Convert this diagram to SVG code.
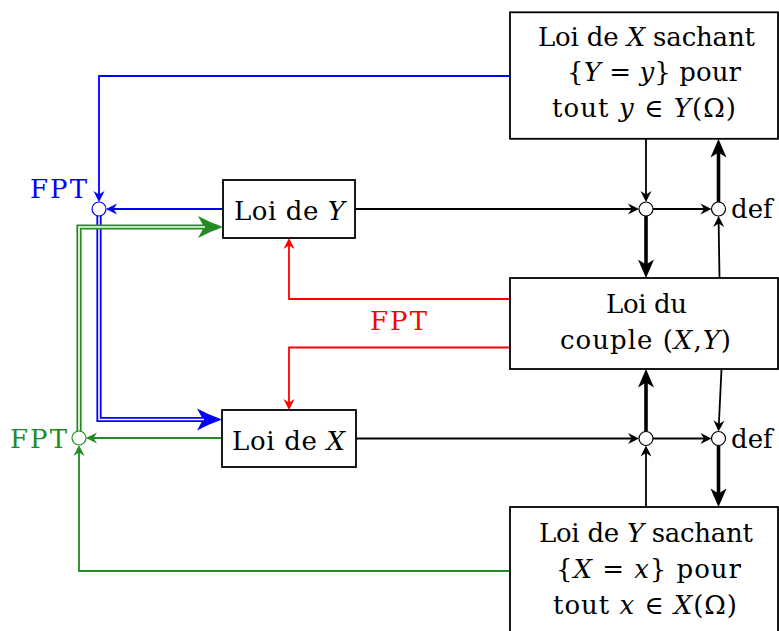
<svg xmlns="http://www.w3.org/2000/svg" width="779" height="631" viewBox="0 0 779 631">
<style>
.box{fill:#fff;stroke:#000;stroke-width:1.8}
.t{font-family:"DejaVu Serif","Liberation Serif",serif;font-size:26px;fill:#000}
.i{font-style:italic}
.ln{fill:none;stroke-width:1.8;stroke-linejoin:miter}
.k{stroke:#000}.b{stroke:#0000ff}.g{stroke:#228b22}.r{stroke:#ff0000}
.thick{fill:none;stroke:#000;stroke-width:3.6}
.dbl{fill:none;stroke-width:5.2;stroke-linejoin:miter}
.inner{fill:none;stroke:#fff;stroke-width:1.6;stroke-linejoin:miter}
.dot{fill:#fff;stroke-width:1.2}
</style>
<defs>
<marker id="ak" markerUnits="userSpaceOnUse" orient="auto" refX="0" refY="0" markerWidth="30" markerHeight="30" overflow="visible"><path d="M4,0 L-7,-5.5 L-3.5,0 L-7,5.5 Z" fill="#000"/></marker>
<marker id="ab" markerUnits="userSpaceOnUse" orient="auto" refX="0" refY="0" markerWidth="30" markerHeight="30" overflow="visible"><path d="M4,0 L-7,-5.5 L-3.5,0 L-7,5.5 Z" fill="#0000ff"/></marker>
<marker id="ag" markerUnits="userSpaceOnUse" orient="auto" refX="0" refY="0" markerWidth="30" markerHeight="30" overflow="visible"><path d="M4,0 L-7,-5.5 L-3.5,0 L-7,5.5 Z" fill="#228b22"/></marker>
<marker id="ar" markerUnits="userSpaceOnUse" orient="auto" refX="0" refY="0" markerWidth="30" markerHeight="30" overflow="visible"><path d="M4,0 L-7,-5.5 L-3.5,0 L-7,5.5 Z" fill="#ff0000"/></marker>
<marker id="akT" markerUnits="userSpaceOnUse" orient="auto" refX="0" refY="0" markerWidth="40" markerHeight="40" overflow="visible"><path d="M6,0 L-12.5,-8 L-7.5,0 L-12.5,8 Z" fill="#000"/></marker>
<marker id="abB" markerUnits="userSpaceOnUse" orient="auto" refX="0" refY="0" markerWidth="40" markerHeight="40" overflow="visible"><path d="M6,0 Q-8,-5 -19,-11 L-13,0 L-19,11 Q-8,5 6,0 Z" fill="#0000ff"/></marker>
<marker id="agB" markerUnits="userSpaceOnUse" orient="auto" refX="0" refY="0" markerWidth="40" markerHeight="40" overflow="visible"><path d="M6,0 Q-8,-5 -19,-11 L-13,0 L-19,11 Q-8,5 6,0 Z" fill="#228b22"/></marker>
</defs>

<g id="connectors">
  <path class="ln b" d="M510,76 H99 V198" marker-end="url(#ab)"/>
  <path class="ln b" d="M223,209 H110" marker-end="url(#ab)"/>
  <path class="dbl b" d="M99,215 V419.5 H216" marker-end="url(#abB)"/>
  <path class="inner" d="M99,215 V419.5 H204"/>
  <path class="dbl g" d="M79,432 V227 H217" marker-end="url(#agB)"/>
  <path class="inner" d="M79,432 V227 H205"/>
  <path class="ln g" d="M222,438 H90" marker-end="url(#ag)"/>
  <path class="ln g" d="M510,571 H79 V449" marker-end="url(#ag)"/>
  <path class="ln r" d="M510,299 H289 V242" marker-end="url(#ar)"/>
  <path class="ln r" d="M510,347.5 H289 V406" marker-end="url(#ar)"/>
  <path class="ln k" d="M355,209 H635" marker-end="url(#ak)"/>
  <path class="ln k" d="M653,209 H707.5" marker-end="url(#ak)"/>
  <path class="ln k" d="M646,139 V198" marker-end="url(#ak)"/>
  <path class="thick" d="M646,216 V272" marker-end="url(#akT)"/>
  <path class="ln k" d="M719.5,278 L718.6,220" marker-end="url(#ak)"/>
  <path class="thick" d="M718.5,202 V145" marker-end="url(#akT)"/>
  <path class="ln k" d="M356,438.5 H635" marker-end="url(#ak)"/>
  <path class="ln k" d="M653,438.5 H707.5" marker-end="url(#ak)"/>
  <path class="ln k" d="M646,507 V449.5" marker-end="url(#ak)"/>
  <path class="thick" d="M646,431.5 V375" marker-end="url(#akT)"/>
  <path class="ln k" d="M721.5,369 L718.7,427.5" marker-end="url(#ak)"/>
  <path class="thick" d="M718.5,445.5 V501" marker-end="url(#akT)"/>
</g>

<g id="node-xsy">
  <rect class="box" x="510" y="12.3" width="268" height="126.5"/>
  <text class="t" x="538" y="45.5" textLength="217" lengthAdjust="spacing">Loi de <tspan class="i">X</tspan> sachant</text>
  <text class="t" x="567" y="81" textLength="174" lengthAdjust="spacing">{<tspan class="i">Y</tspan> = <tspan class="i">y</tspan>} pour</text>
  <text class="t" x="552" y="116.5" textLength="184" lengthAdjust="spacing">tout <tspan class="i">y</tspan> ∈ <tspan class="i">Y</tspan>(Ω)</text>
</g>

<g id="node-couple">
  <rect class="box" x="510" y="278" width="268" height="91"/>
  <text class="t" x="606" y="313" textLength="81" lengthAdjust="spacing">Loi du</text>
  <text class="t" x="560" y="349" textLength="171" lengthAdjust="spacing">couple (<tspan class="i">X</tspan>,<tspan class="i">Y</tspan>)</text>
</g>

<g id="node-ysx">
  <rect class="box" x="510" y="507" width="268" height="130"/>
  <text class="t" x="539" y="542" textLength="214" lengthAdjust="spacing">Loi de <tspan class="i">Y</tspan> sachant</text>
  <text class="t" x="556" y="578" textLength="185" lengthAdjust="spacing">{<tspan class="i">X</tspan> = <tspan class="i">x</tspan>} pour</text>
  <text class="t" x="553" y="613.5" textLength="184" lengthAdjust="spacing">tout <tspan class="i">x</tspan> ∈ <tspan class="i">X</tspan>(Ω)</text>
</g>

<g id="node-loiY">
  <rect class="box" x="223" y="180" width="132" height="58"/>
  <text class="t" x="234" y="220" textLength="111" lengthAdjust="spacing">Loi de <tspan class="i">Y</tspan></text>
</g>

<g id="node-loiX">
  <rect class="box" x="222" y="410" width="134" height="57"/>
  <text class="t" x="232" y="450" textLength="113" lengthAdjust="spacing">Loi de <tspan class="i">X</tspan></text>
</g>

<g id="node-fpt-blue">
  <circle class="dot" cx="99" cy="209" r="7" stroke="#0000ff"/>
  <text class="t" x="30" y="198" textLength="57" lengthAdjust="spacing" style="fill:#0000ff">FPT</text>
</g>

<g id="node-fpt-green">
  <circle class="dot" cx="79" cy="438" r="7" stroke="#228b22"/>
  <text class="t" x="10" y="448" textLength="57" lengthAdjust="spacing" style="fill:#228b22">FPT</text>
</g>

<g id="label-fpt-red">
  <text class="t" x="370" y="330" textLength="57" lengthAdjust="spacing" style="fill:#ff0000">FPT</text>
</g>

<g id="node-c1">
  <circle class="dot" cx="646" cy="209" r="7" stroke="#000"/>
</g>
<g id="node-def1">
  <circle class="dot" cx="718.5" cy="209" r="7" stroke="#000"/>
  <text class="t" x="731" y="218">def</text>
</g>
<g id="node-c2">
  <circle class="dot" cx="646" cy="438.5" r="7" stroke="#000"/>
</g>
<g id="node-def2">
  <circle class="dot" cx="718.5" cy="438.5" r="7" stroke="#000"/>
  <text class="t" x="731" y="447.5">def</text>
</g>
</svg>
